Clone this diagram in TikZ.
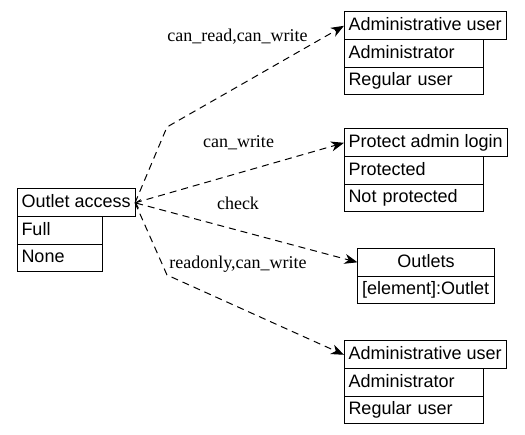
\documentclass[tikz,border=0pt]{standalone}
\usepackage{fontspec}
\setmainfont{Liberation Serif}
\setsansfont{Liberation Sans}
\usetikzlibrary{arrows.meta}

\begin{document}
\begin{tikzpicture}[x=1pt, y=-1pt, line width=1pt,
    classhead/.style={draw, anchor=north west, outer sep=0pt, inner xsep=4.5pt, inner ysep=5.8pt,
      text height=13pt, text depth=3pt, font=\fontsize{18}{21}\sffamily\selectfont},
    classrow/.style={classhead, text width=#1, align=left},
    dep/.style={dash pattern=on 7pt off 5pt, -{Stealth[length=13pt,width=10pt,inset=4pt]}},
    lbl/.style={inner sep=0pt, font=\fontsize{18}{21}\selectfont}]
    \useasboundingbox (0,0) rectangle (525,435);

    \node[classhead] (acc) at (17,189) {Outlet access};
    \node[classrow=76pt] (accfull) at (acc.south west) {Full};
    \node[classrow=76pt] (accnone) at (accfull.south west) {None};

    \node[classhead] (adm) at (344,12) {Administrative user};
    \node[classrow=130pt] (admadmin) at (adm.south west) {Administrator};
    \node[classrow=130pt] (admreg) at (admadmin.south west) {Regular user};

    \node[classhead] (prot) at (344,129) {Protect admin login};
    \node[classrow=130pt] (protyes) at (prot.south west) {Protected};
    \node[classrow=130pt] (protno) at (protyes.south west) {Not protected};

    \node[classhead, text width=128pt, align=center] (outl) at (357.5,248.5) {Outlets};
    \node[classrow=128pt] (outlelem) at (outl.south west) {[element]:Outlet};

    \node[classhead] (admb) at (344,341) {Administrative user};
    \node[classrow=130pt] (admbadmin) at (admb.south west) {Administrator};
    \node[classrow=130pt] (admbreg) at (admbadmin.south west) {Regular user};

    \coordinate (bendup) at (167,127);
    \coordinate (benddown) at (167,275);

    \draw[dep] (acc.east) -- (bendup) -- (adm.west);
    \draw[dep] (acc.east) -- (prot.west);
    \draw[dep, {Straight Barb[length=4pt,width=9pt]}-{Stealth[length=13pt,width=10pt,inset=4pt]}] (acc.east) -- (outl.west);
    \draw[dep] (acc.east) -- (benddown) -- (admb.west);

    \node[lbl] (lread) at (237.5,37) {can\_read,can\_write};
    \node[lbl] (lwrite) at (238.5,143) {can\_write};
    \node[lbl] (lcheck) at (238,203.5) {check};
    \node[lbl] (lronly) at (238,264) {readonly,can\_write};
\end{tikzpicture}
\end{document}
